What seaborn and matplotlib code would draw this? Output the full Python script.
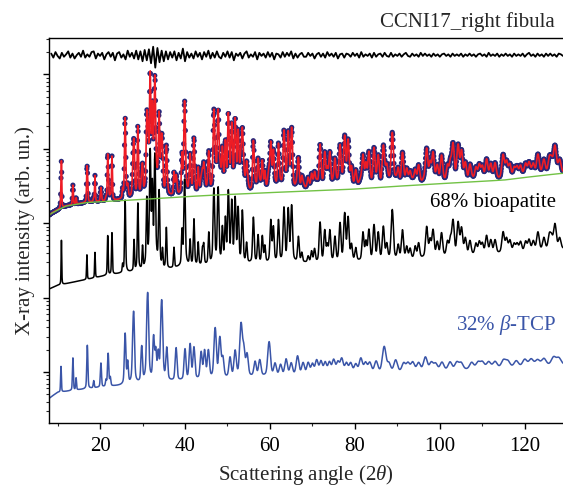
import numpy as np
import pandas as pd
import seaborn as sns
import matplotlib.pyplot as plt
from matplotlib.ticker import LogLocator, MultipleLocator, NullFormatter

# bioapatite phase: peak positions (2theta) and heights above its background
apatite_pos = [10.9, 16.9, 18.8, 21.8, 22.8, 25.3, 25.9, 28.0, 28.9, 30.0,
               31.0, 31.8, 32.3, 32.9, 33.9, 34.7, 35.6, 37.4, 39.3, 39.9,
               41.2, 42.1, 43.1, 44.1, 44.4, 45.6, 46.8, 47.8, 48.8, 49.5,
               50.2, 51.0, 51.8, 52.5, 53.5, 54.5, 56.1, 57.2, 58.2, 58.8,
               60.2, 60.8, 62.0, 63.3, 64.3, 65.1, 66.7, 67.5, 69.0, 69.8,
               70.5, 71.8, 72.9, 73.5, 74.1, 75.3, 76.5, 77.6, 78.4, 79.2,
               80.2, 81.9, 82.6, 83.3, 84.5, 85.5, 86.7, 87.5, 88.8, 90.2,
               91.2, 92.2, 93.0, 94.2, 95.0, 96.9, 97.7, 98.4, 99.4, 100.4,
               101.8, 102.5, 103.1, 104.3, 105.1, 106.0, 107.1, 108.5, 109.3, 110.0,
               111.0, 112.0, 113.0, 114.9, 115.7, 116.5, 117.5, 118.2, 119.0, 120.2,
               121.0, 122.0, 123.1, 124.5, 125.8, 126.3, 127.1, 128.2]
apatite_amp = [44, 20, 22, 48, 54, 6, 183, 37, 164, 25,
               200, 980, 350, 850, 255, 20, 63, 22, 55, 365,
               33, 87, 28, 18, 25, 47, 268, 278, 60, 90,
               250, 176, 196, 135, 120, 25, 91, 40, 38, 20,
               81, 60, 81, 134, 129, 145, 36, 10, 6, 12,
               15, 73, 50, 20, 50, 35, 70, 106, 90, 20,
               15, 44, 25, 50, 63, 43, 58, 20, 120, 18,
               48, 15, 12, 15, 20, 55, 25, 46, 20, 38,
               20, 25, 73, 66, 49, 25, 20, 15, 18, 15,
               29, 20, 20, 36, 22, 18, 12, 12, 15, 15,
               18, 15, 33, 20, 25, 20, 53, 18]
apatite_bg_x = [8.0, 10, 17, 22, 28, 35, 40, 50, 60, 70, 80, 90, 100, 110, 120, 129]
apatite_bg_y = [13.0, 14.5, 17.5, 20, 22, 23, 26, 28, 29, 29.5, 30.5, 32, 35, 38, 41, 45]

# beta-TCP phase
tcp_pos = [10.8, 13.6, 14.35, 17.0, 18.5, 20.2, 21.4, 21.9, 22.4, 25.9,
           26.5, 27.7, 27.9, 29.8, 31.2, 32.6, 33.1, 33.7, 34.5, 35.7,
           37.9, 40.0, 41.2, 42.1, 43.8, 44.6, 45.5, 47.1, 48.2, 48.9,
           50.6, 51.8, 53.2, 53.8, 54.6, 56.5, 57.6, 59.8, 61.2, 62.5,
           63.8, 65.0, 66.5, 67.8, 69.0, 70.0, 71.0, 72.0, 73.0, 74.0,
           75.0, 76.0, 76.9, 78.0, 79.0, 80.2, 81.4, 82.5, 83.5, 85.0,
           86.9, 88.0, 89.6, 91.5, 92.5, 93.6, 95.0, 96.6, 98.0, 99.0,
           100.5, 102.4, 104.0, 105.0, 107.5, 109.0, 110.0, 111.5, 113.0, 115.0,
           116.0, 118.0, 120.0, 121.5, 123.0, 124.5, 126.8, 128.0]
tcp_amp = [0.65, 0.98, 0.26, 1.69, 0.15, 0.69, 0.14, 1.14, 0.2, 2.64,
           0.69, 0.65, 5.6, 1.49, 11.0, 2.3, 1.25, 1.07, 8.6, 1.35,
           1.35, 1.26, 1.6, 1.36, 1.05, 1.14, 1.14, 3.1, 2.1, 0.72,
           0.72, 1.07, 3.66, 1.27, 0.86, 0.5, 0.57, 1.66, 0.4, 0.35,
           0.58, 0.4, 0.72, 0.4, 0.4, 0.35, 0.5, 0.45, 0.4, 0.4,
           0.5, 0.4, 0.55, 0.35, 0.35, 0.3, 0.55, 0.35, 0.35, 0.4,
           1.2, 0.3, 0.44, 0.3, 0.3, 0.33, 0.3, 0.55, 0.3, 0.25,
           0.3, 0.3, 0.28, 0.25, 0.25, 0.25, 0.25, 0.25, 0.25, 0.3,
           0.25, 0.25, 0.3, 0.3, 0.25, 0.3, 0.35, 0.3]
tcp_bg_x = [8.0, 10, 20, 30, 40, 50, 60, 80, 100, 120, 129]
tcp_bg_y = [0.44, 0.53, 0.62, 0.69, 0.76, 0.82, 0.88, 0.95, 1.03, 1.16, 1.24]

# refined background of the measured pattern (green)
obs_bg_x = [8.0, 8.5, 12, 17, 30, 45, 62, 80, 100, 115, 129]
obs_bg_y = [128, 135, 170, 190, 209, 236, 261, 288, 340, 380, 470]
apatite_scale = 11.0
tcp_scale = 150.0

# difference curve (obs - calc), every 0.5 deg from 8.5 to 129
resid = [2, -3, 4, -1, -4, 3, -2, 1, 5, -3, 2, -4, 0, 3, -2, 6, -3, 1, -2, 4,
         5, -4, 2, -1, 3, -5, 1, 4, -2, 3, -6, 2, 4, -3, 1, -5, 6, -2, 3, -4,
         6, -5, 5, -7, 7, -6, 8, -9, 12, -13, 10, -8, 6, -7, 5, -5, 4, -3, 5, -6,
         3, -4, 9, -7, 4, -3, 2, -4, 5, -2, 3, -5, 4, -2, 6, -4, 3, -3, 5, -2,
         -4, 3, -2, 5, -3, 4, -6, 2, -1, 3, -4, 2, 5, -3, 1, -2, 4, -5, 3, -1,
         2, -3, 4, -2, 3, -5, 2, 1, -3, 4, -2, 3, -1, 5, -4, 2, -3, 1, 3, -2,
         -2, 3, -1, 2, -4, 1, 3, -2, 2, -3, 4, -1, 2, -2, 3, -4, 1, 2, -3, 2,
         1, -2, 3, -1, 2, -3, 4, -2, 1, -1, 2, -3, 3, -2, 1, 2, -2, 3, -1, -2,
         3, -2, 1, -1, 2, -2, 1, 3, -1, -2, 2, -1, 1, -2, 3, -1, 2, -1, 1, -2,
         2, -1, 1, -2, 1, 2, -1, 1, -2, 2, -1, 1, -1, 2, -2, 1, -1, 2, -1, 1,
         -2, 1, 2, -1, 1, -2, 3, -1, 1, -1, 2, -2, 1, -1, 2, -1, 1, -2, 2, -1,
         1, -1, 2, -2, 1, 3, -1, 1, -2, 2, -1, 1, -2, 2, -1, 2, -1, 1, -2, 2,
         1, -1]
resid_offset = 18200
resid_unit = 450


def peaks(x, pos, amp, w0, w1, eta=0.3):
    y = np.zeros_like(x)
    for p, a in zip(pos, amp):
        w = w0 + w1 * p
        d = (x - p) / w
        y += a * ((1 - eta) * np.exp(-4 * np.log(2) * d ** 2) + eta / (1 + 4 * d ** 2))
    return y


x = np.arange(8.0, 129.01, 0.02)
ap_peaks = peaks(x, apatite_pos, apatite_amp, 0.10, 0.0045)
tcp_peaks = peaks(x, tcp_pos, tcp_amp, 0.10, 0.009)
green = np.interp(x, obs_bg_x, obs_bg_y)

df = pd.DataFrame({
    "angle": x,
    "apatite": np.interp(x, apatite_bg_x, apatite_bg_y) + ap_peaks,
    "tcp": np.interp(x, tcp_bg_x, tcp_bg_y) + tcp_peaks,
    "calc": green + apatite_scale * ap_peaks + tcp_scale * tcp_peaks,
    "bg": green,
})
obs = df.iloc[::4]
res_x = np.arange(8.5, 129.01, 0.5)
res_df = pd.DataFrame({"angle": res_x, "diff": resid_offset + resid_unit * np.array(resid)})

sns.set_theme(style="ticks")
plt.rcParams["font.family"] = ["Liberation Serif", "DejaVu Serif"]
plt.rcParams["mathtext.fontset"] = "custom"
plt.rcParams["mathtext.rm"] = "Liberation Serif"
plt.rcParams["mathtext.it"] = "Liberation Serif:italic"

fig = plt.figure(figsize=(5.63, 4.90), dpi=100)
ax = fig.add_axes([0.0876, 0.1361, 0.9124, 0.7863])

sns.lineplot(data=df, x="angle", y="tcp", color="#3a55a8", lw=1.1, ax=ax, estimator=None)
sns.lineplot(data=df, x="angle", y="apatite", color="black", lw=1.1, ax=ax, estimator=None)
sns.scatterplot(data=obs, x="angle", y="calc", color="#28287a", s=14, edgecolor="none", ax=ax)
sns.lineplot(data=df, x="angle", y="calc", color="#ee1c25", lw=1.2, ax=ax, estimator=None)
sns.lineplot(data=df, x="angle", y="bg", color="#72c245", lw=1.0, ax=ax, estimator=None)
sns.lineplot(data=res_df, x="angle", y="diff", color="black", lw=1.3, ax=ax, estimator=None)

ax.set_yscale("log")
ax.set_xlim(8.05, 129.0)
ax.set_ylim(10 ** -0.69, 10 ** 4.49)
ax.xaxis.set_major_locator(MultipleLocator(20))
ax.xaxis.set_minor_locator(MultipleLocator(10))
ax.yaxis.set_major_locator(LogLocator(base=10))
ax.yaxis.set_minor_locator(LogLocator(base=10, subs=np.arange(2, 10)))
ax.yaxis.set_major_formatter(NullFormatter())
ax.yaxis.set_minor_formatter(NullFormatter())
ax.tick_params(which="major", direction="out", length=4, width=1, labelsize=15,
               colors="black", pad=6)
ax.tick_params(which="minor", direction="out", length=2.5, width=0.8)
ax.spines["right"].set_visible(False)
for s in ["left", "bottom", "top"]:
    ax.spines[s].set_linewidth(1.0)
    ax.spines[s].set_color("black")

ax.set_xlabel(r"Scattering angle (2$\it{\theta}$)", fontsize=15, labelpad=5)
ax.set_ylabel("X-ray intensity (arb. un.)", fontsize=15, labelpad=0)
ax.text(0.986, 0.574, "68% bioapatite", transform=ax.transAxes, ha="right", va="center",
        fontsize=15, color="black")
ax.text(0.986, 0.255, r"32% $\it{\beta}$-TCP", transform=ax.transAxes, ha="right", va="center",
        fontsize=15, color="#3a55a8")
fig.text(0.986, 0.955, "CCNI17_right fibula", ha="right", va="center", fontsize=15)

fig.savefig("out.png", dpi=100)
